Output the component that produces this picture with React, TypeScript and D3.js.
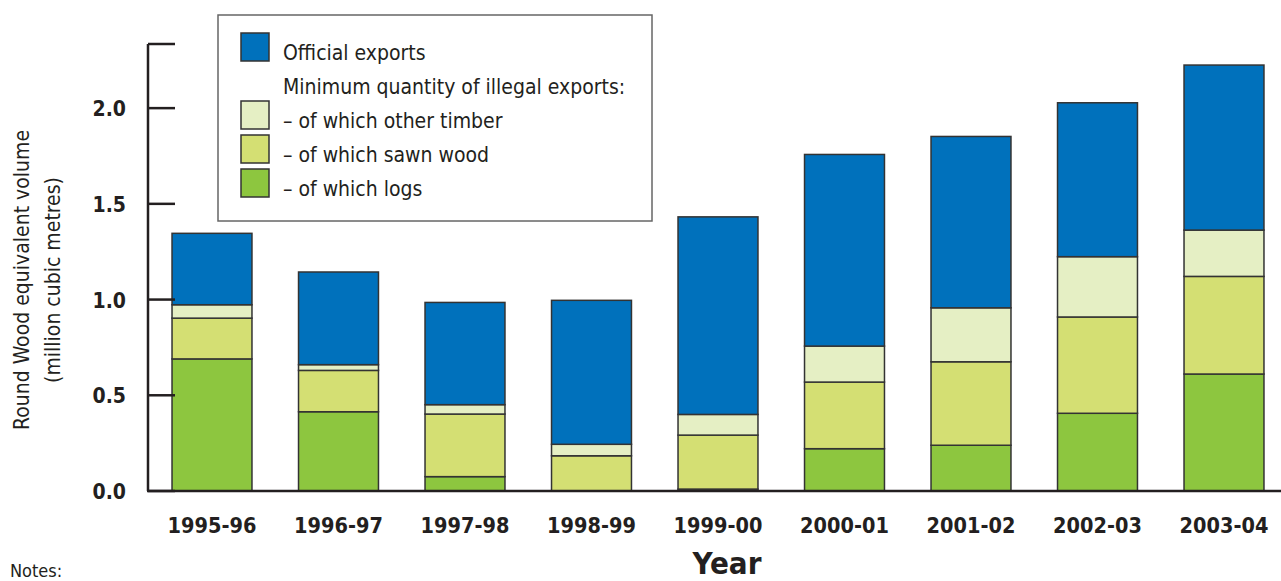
import React from "react";
import * as d3 from "d3";

const years = ["1995-96", "1996-97", "1997-98", "1998-99", "1999-00", "2000-01", "2001-02", "2002-03", "2003-04"];
const logs = [0.69, 0.414, 0.075, 0, 0.01, 0.221, 0.239, 0.406, 0.611];
const sawnWood = [0.213, 0.216, 0.327, 0.184, 0.282, 0.348, 0.436, 0.503, 0.51];
const otherTimber = [0.07, 0.03, 0.049, 0.06, 0.108, 0.188, 0.282, 0.315, 0.242];
const officialExports = [0.373, 0.484, 0.534, 0.752, 1.032, 1.001, 0.895, 0.804, 0.862];
const yTicks = [0, 0.5, 1.0, 1.5, 2.0];

const keys = ["logs", "sawn", "other", "official"];
const colors: any = {
  logs: "#8dc63f",
  sawn: "#d4df73",
  other: "#e5efc4",
  official: "#0071bc",
};

const legendItems = [
  { key: "official", label: "Official exports" },
  { key: null, label: "Minimum quantity of illegal exports:" },
  { key: "other", label: "\u2013 of which other timber" },
  { key: "sawn", label: "\u2013 of which sawn wood" },
  { key: "logs", label: "\u2013 of which logs" },
];

const ink = "#231f20";
const font = "'DejaVu Sans Condensed', 'DejaVu Sans', sans-serif";

const App = () => {
  const width = 1281;
  const height = 581;

  const rows = years.map((y, i) => ({
    year: y,
    logs: logs[i],
    sawn: sawnWood[i],
    other: otherTimber[i],
    official: officialExports[i],
  }));

  const x = d3
    .scaleBand()
    .domain(years)
    .range([148.75, 1287.25])
    .paddingInner(0.368)
    .paddingOuter(0.184);

  const y = d3.scaleLinear().domain([0, 2.335]).range([491, 44]);

  const series = d3.stack().keys(keys)(rows as any);

  return (
    <svg
      width={width}
      height={height}
      style={{ position: "absolute", left: 0, top: 0, background: "#fff" }}
      fontFamily={font}
    >
      {/* stacked bars */}
      {series.map((s: any) => (
        <g key={s.key} fill={colors[s.key]}>
          {s.map((d: any, i: number) =>
            d[1] - d[0] > 0 ? (
              <rect
                key={i}
                x={x(years[i])}
                y={y(d[1])}
                width={x.bandwidth()}
                height={y(d[0]) - y(d[1])}
                stroke="#333"
                strokeWidth={1.5}
              />
            ) : null
          )}
        </g>
      ))}

      {/* y axis */}
      <line x1={148} x2={148} y1={y(2.335)} y2={y(0)} stroke={ink} strokeWidth={2.5} />
      <line x1={148} x2={175} y1={y(2.335)} y2={y(2.335)} stroke={ink} strokeWidth={2.5} />
      {yTicks.map((t) => (
        <g key={t}>
          <line x1={148} x2={175} y1={y(t)} y2={y(t)} stroke={ink} strokeWidth={2.5} />
          <text
            x={126}
            y={y(t) + 8}
            textAnchor="end"
            fontWeight="bold"
            fontSize={21}
            fill={ink}
          >
            {d3.format(".1f")(t)}
          </text>
        </g>
      ))}

      {/* x axis */}
      <line x1={147} x2={1281} y1={y(0)} y2={y(0)} stroke={ink} strokeWidth={2.5} />
      {years.map((yr) => (
        <text
          key={yr}
          x={(x(yr) as number) + x.bandwidth() / 2}
          y={533}
          textAnchor="middle"
          fontWeight="bold"
          fontSize={21.5}
          fill={ink}
        >
          {yr}
        </text>
      ))}

      <text x={727} y={574} textAnchor="middle" fontWeight="bold" fontSize={31} fill={ink}>
        Year
      </text>

      <text x={10} y={577} fontSize={18} fill={ink}>
        Notes:
      </text>

      {/* y title */}
      <g transform="translate(0,280) rotate(-90)" fill={ink} fontSize={21} textAnchor="middle">
        <text x={0} y={29}>Round Wood equivalent volume</text>
        <text x={0} y={60}>(million cubic metres)</text>
      </g>

      {/* legend */}
      <rect x={218} y={15} width={434} height={206} fill="#fff" stroke="#666" strokeWidth={1.5} />
      {legendItems.map((item, i) => {
        const base = [60, 94, 128, 162, 196][i];
        return (
          <g key={i}>
            {item.key && (
              <rect
                x={241}
                y={base - 27}
                width={28}
                height={28}
                fill={colors[item.key]}
                stroke="#333"
                strokeWidth={1.5}
              />
            )}
            <text x={283} y={base} fontSize={21} fill={ink}>
              {item.label}
            </text>
          </g>
        );
      })}
    </svg>
  );
};

export default App;
